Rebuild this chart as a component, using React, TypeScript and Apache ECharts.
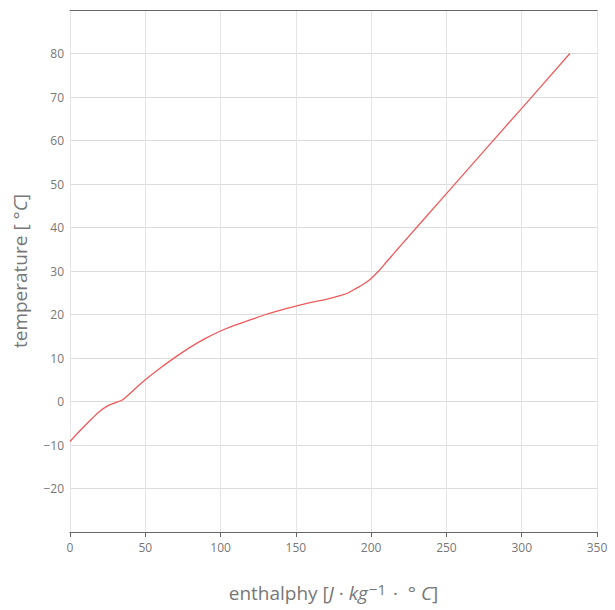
import React, { useEffect, useRef } from "react";
import * as echarts from "echarts";

const enthalpy = [0, 5, 10, 15, 20, 25, 30, 35, 40, 45, 50, 60, 70, 80, 90, 100, 110, 120, 130, 140, 150, 160, 170, 180, 185, 190, 195, 200, 205, 210, 215, 220, 250, 300, 332];
const temperature = [-9.2, -7.3, -5.5, -3.8, -2.2, -1.0, -0.3, 0.4, 1.9, 3.5, 5.0, 7.7, 10.2, 12.5, 14.5, 16.2, 17.6, 18.8, 20.0, 21.0, 21.9, 22.8, 23.5, 24.4, 25.0, 26.0, 27.0, 28.3, 30.0, 32.0, 34.0, 36.0, 47.8, 67.4, 80.0];
const xTicks = [0, 50, 100, 150, 200, 250, 300, 350];
const yTicks = [-20, -10, 0, 10, 20, 30, 40, 50, 60, 70, 80];

const FONT = "Open Sans";
const LINE = "#ef5a5a";

export default function App() {
  const ref = useRef<HTMLDivElement>(null);
  useEffect(() => {
    const chart = echarts.init(ref.current!, undefined, { renderer: "svg" });
    const data = enthalpy.map((h, i) => [h, temperature[i]]);
    chart.setOption({
      animation: false,
      grid: { left: 70, right: 18, top: 10, bottom: 78 },
      xAxis: [
        {
          type: "value",
          min: 0,
          max: 350,
          interval: 50,
          name: "{n|enthalphy [}{i|J}{n| · }{i|kg}{s|−1}{n| ·  ° }{i|C}{n|]}",
          nameLocation: "middle",
          nameGap: 49,
          nameTextStyle: {
            rich: {
              n: { fontFamily: FONT, fontSize: 19, color: "#777" },
              i: { fontFamily: FONT, fontSize: 19, color: "#777", fontStyle: "italic" },
              s: { fontFamily: FONT, fontSize: 15, color: "#777", verticalAlign: "top", padding: [0, 2, 9, 1] },
            },
          },
          axisLine: { show: true, onZero: false, lineStyle: { color: "#666", width: 1 } },
          axisTick: { show: true, length: 5, lineStyle: { color: "#666" } },
          axisLabel: {
            fontFamily: FONT,
            fontSize: 12,
            color: "#777",
            margin: 9,
            formatter: (v: number) => (xTicks.includes(v) ? String(v) : ""),
          },
          splitLine: { show: true, lineStyle: { color: "#e5e5e5", width: 1 } },
        },
        {
          type: "value",
          position: "top",
          min: 0,
          max: 350,
          interval: 50,
          axisLine: { show: true, onZero: false, lineStyle: { color: "#666", width: 1 } },
          axisTick: { show: false },
          axisLabel: { show: false },
          splitLine: { show: false },
        },
      ],
      yAxis: {
        type: "value",
        min: -30,
        max: 90,
        interval: 10,
        name: "{n|temperature [ °}{i|C}{n|]}",
        nameLocation: "middle",
        nameGap: 41,
        nameRotate: 90,
        nameTextStyle: {
          rich: {
            n: { fontFamily: FONT, fontSize: 19, color: "#777" },
            i: { fontFamily: FONT, fontSize: 19, color: "#777", fontStyle: "italic" },
          },
        },
        axisLine: { show: false },
        axisTick: { show: false },
        axisLabel: {
          fontFamily: FONT,
          fontSize: 12,
          color: "#777",
          margin: 6,
          formatter: (v: number) =>
            yTicks.includes(v) ? (v < 0 ? "\u2212" + Math.abs(v) : String(v)) : "",
        },
        splitLine: { show: true, lineStyle: { color: "#dcdcdc", width: 1 } },
      },
      series: [
        {
          type: "line",
          data,
          smooth: 0.3,
          showSymbol: false,
          lineStyle: { color: LINE, width: 1.3 },
          itemStyle: { color: LINE },
        },
      ],
    });
    return () => chart.dispose();
  }, []);
  return <div ref={ref} style={{ width: 615, height: 610, position: "absolute", left: 0, top: 0 }} />;
}
